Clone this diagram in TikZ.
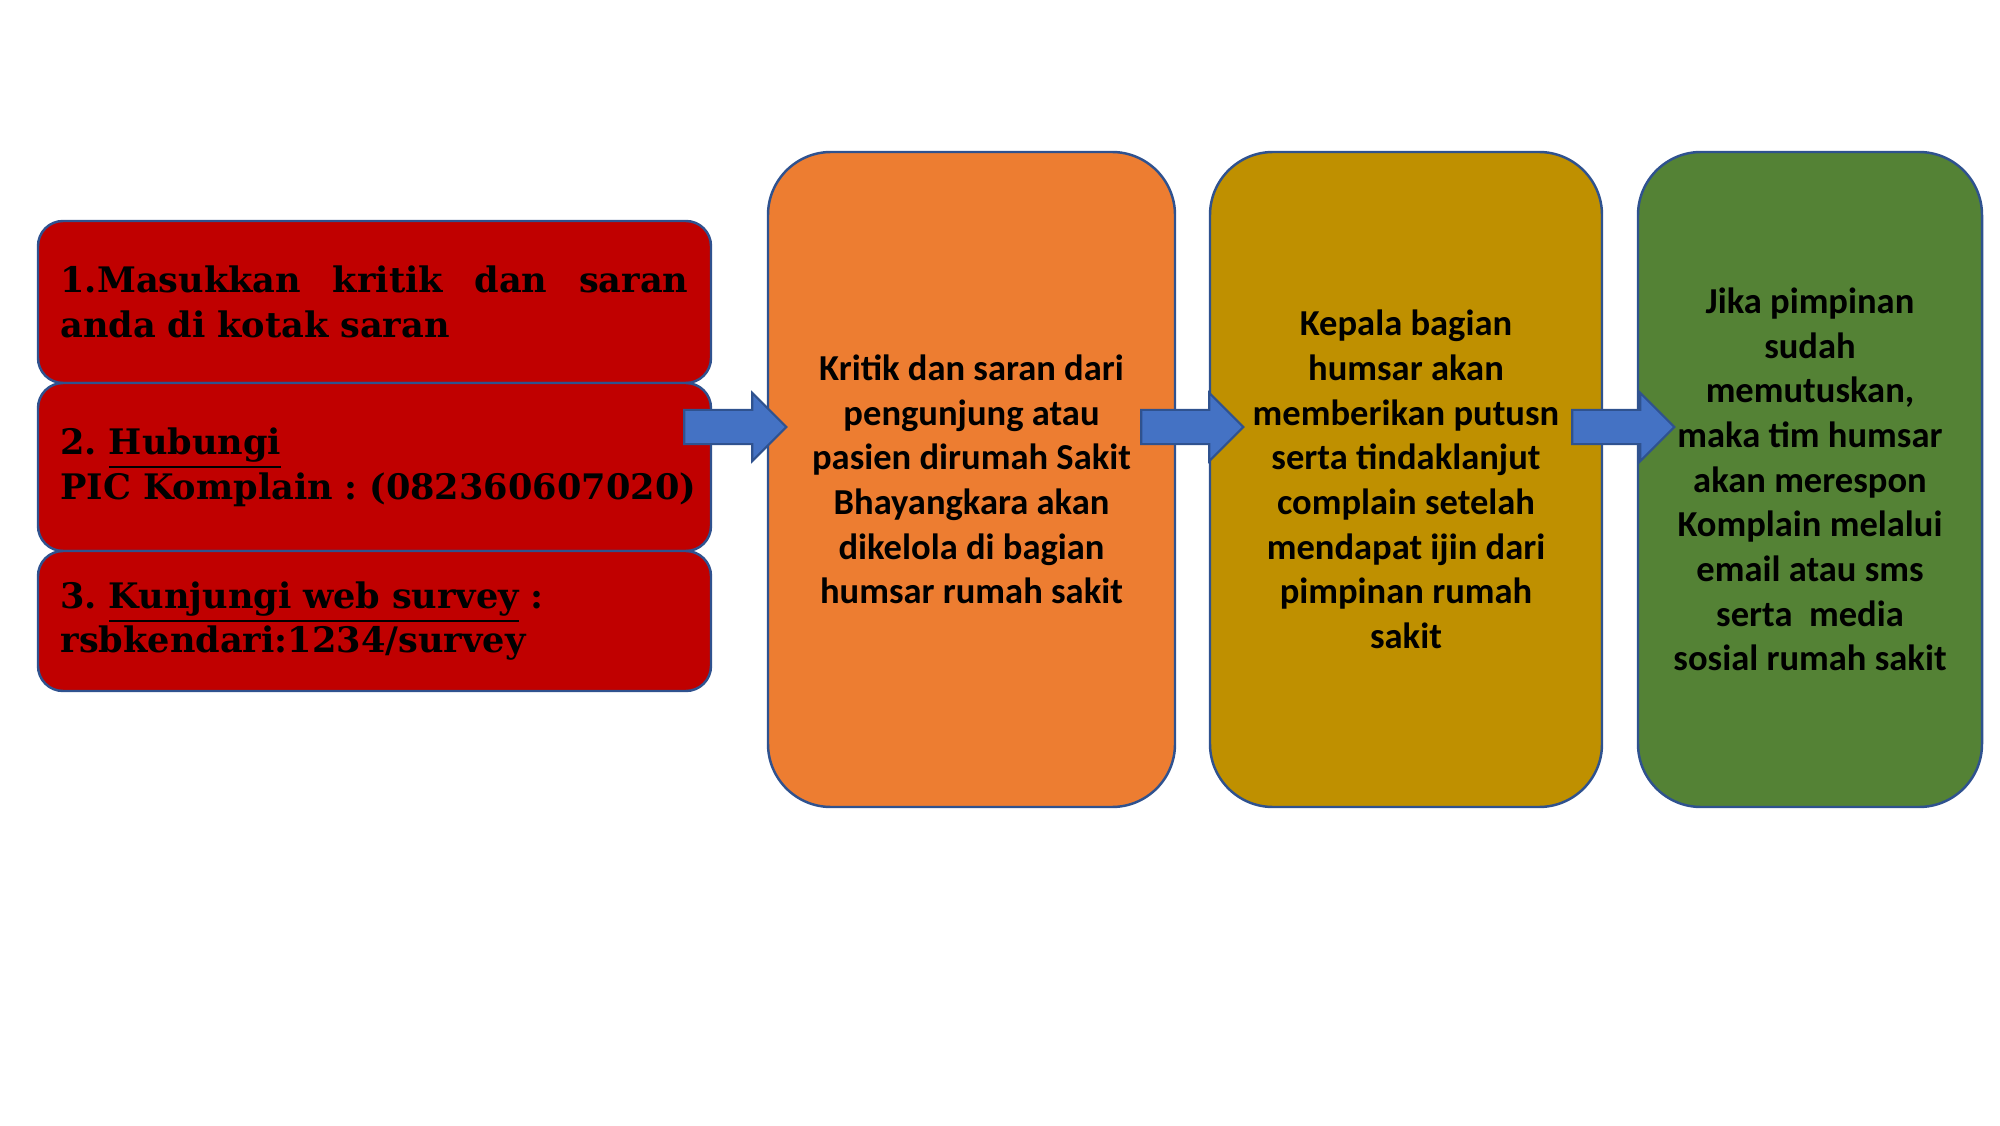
\documentclass[tikz,border=0pt]{standalone}
\usepackage{fontspec}
\setmainfont{Carlito}
\newfontfamily\slabfont{DejaVu Serif}
\usepackage{xcolor}
\usepackage{tikz}
\usetikzlibrary{shapes.arrows, calc}

\definecolor{merah}{HTML}{C00000}
\definecolor{oranye}{HTML}{ED7D31}
\definecolor{emas}{HTML}{BF9000}
\definecolor{hijau}{HTML}{548235}
\definecolor{biru}{HTML}{4472C4}
\definecolor{garis}{HTML}{2F528F}

\tikzset{
  langkah/.style={draw=garis, line width=0.7pt, rounded corners=0.25cm, fill=merah,
    minimum width=6.73cm, text width=6.28cm, align=left, inner sep=0pt,
    font=\slabfont\bfseries\fontsize{10}{12.7}\selectfont\frenchspacing},
  tahap/.style={draw=garis, line width=0.7pt, rounded corners=0.63cm,
    minimum height=6.55cm, align=center, inner sep=0pt,
    font=\bfseries\fontsize{10.4}{12.7}\selectfont},
  panah/.style={single arrow, draw=garis, line width=0.6pt, fill=biru,
    inner xsep=0pt, inner ysep=0.16cm, minimum height=1.02cm,
    single arrow head extend=0.17cm, shape border rotate=0, anchor=tail}
}

\begin{document}
\begin{tikzpicture}
  \useasboundingbox (0,0) rectangle (20,11.25);

  \node[langkah, minimum height=1.62cm] (kotak) at (3.745,8.23)
    {\hbox to 6.28cm{1.Masukkan\hfill kritik\hfill dan\hfill saran}\\anda di kotak saran};
  \node[langkah, minimum height=1.68cm] (hubungi) at (3.745,6.58)
    {2. \underline{Hubungi}\\\hbox{PIC Komplain : (082360607020)}};
  \node[langkah, minimum height=1.40cm] (survey) at (3.745,5.04)
    {3. \underline{Kunjungi web survey} :\\rsbkendari:1234/survey};

  \node[tahap, fill=oranye, minimum width=4.07cm] (kelola) at (9.715,6.455)
    {Kritik dan saran dari\\pengunjung atau\\pasien dirumah Sakit\\Bhayangkara akan\\dikelola di bagian\\humsar rumah sakit};
  \node[tahap, fill=emas, minimum width=3.92cm] (putus) at (14.06,6.455)
    {Kepala bagian\\humsar akan\\memberikan putusn\\serta tindaklanjut\\complain setelah\\mendapat ijin dari\\pimpinan rumah\\sakit};
  \node[tahap, fill=hijau, minimum width=3.44cm] (respon) at (18.10,6.455)
    {Jika pimpinan\\sudah\\memutuskan,\\maka tim humsar\\akan merespon\\Komplain melalui\\email atau sms\\serta \ media\\sosial rumah sakit};

  \coordinate (baris) at (0,6.98);
  \node[panah] (p1) at ($(hubungi.east |- baris)+(-0.29,0)$) {};
  \node[panah] (p2) at ($(kelola.east |- baris)+(-0.36,0)$) {};
  \node[panah] (p3) at ($(putus.east |- baris)+(-0.32,0)$) {};
\end{tikzpicture}
\end{document}
